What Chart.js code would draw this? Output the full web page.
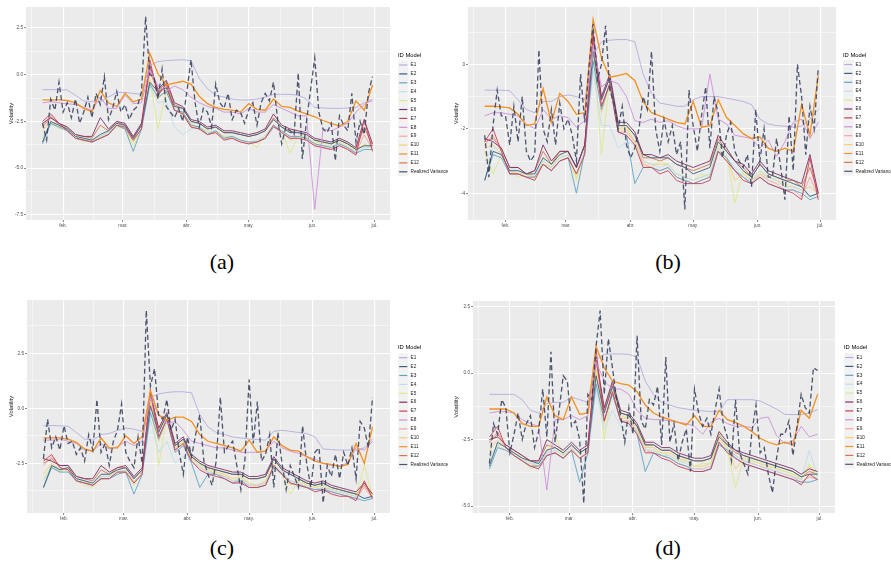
<!DOCTYPE html>
<html>
<head>
<meta charset="utf-8">
<script src="https://cdn.jsdelivr.net/npm/chart.js@4.4.0/dist/chart.umd.min.js"></script>
<style>
  body { margin: 0; background: #fff; }
  #fig { position: relative; width: 891px; height: 569px; overflow: hidden; }
  #fig canvas { position: absolute; }
  .lab { position: absolute; width: 60px; height: 24px; line-height: 24px; text-align: center;
         font-family: "Liberation Serif", "DejaVu Serif", serif; font-size: 22px; color: #000; }
</style>
</head>
<body>
<div id="fig">
  <canvas id="ca" width="456" height="240" style="left:0px;top:0px"></canvas>
  <canvas id="cb" width="446" height="240" style="left:445px;top:0px"></canvas>
  <canvas id="cc" width="456" height="240" style="left:0px;top:285px"></canvas>
  <canvas id="cd" width="446" height="240" style="left:445px;top:285px"></canvas>
  <div class="lab" style="left:192px;top:250px">(a)</div>
  <div class="lab" style="left:638px;top:250px">(b)</div>
  <div class="lab" style="left:192px;top:536px">(c)</div>
  <div class="lab" style="left:638px;top:536px">(d)</div>
</div>
<script>
// day of year (0 = 1 Jan) for the model series, every 4 days
const days = [21,25,29,33,37,41,45,49,53,57,61,65,69,73,77,81,85,89,93,97,
  101,105,109,113,117,121,125,129,133,137,141,145,149,153,157,161,165,169,173,177,181];
// realized variance is read every 2 days
const rvDays = [21,23,25,27,29,31,33,35,37,39,41,43,45,47,49,51,53,55,57,59,
  61,63,65,67,69,71,73,75,77,79,81,83,85,87,89,91,93,95,97,99,
  101,103,105,107,109,111,113,115,117,119,121,123,125,127,129,131,133,135,137,139,
  141,143,145,147,149,151,153,155,157,159,161,163,165,167,169,171,173,175,177,179,181];
const seriesNames = ['E1','E2','E3','E4','E5','E6','E7','E8','E9','E10','E11','E12','Realized Variance'];
const monthTicks = [31,60,91,121,152,182];
const monthLabels = ['feb.','mar.','abr.','may.','jun.','jul.'];

// ---- panel (a)
const aE1 = [-0.8,-0.8,-0.8,-0.82,-1.1,-1.4,-1.45,-1.45,-1.2,-0.95,
  -0.95,-1.0,-1.05,0.5,0.7,0.75,0.78,0.8,0.75,-0.2,
  -0.75,-1.1,-1.2,-1.3,-1.35,-1.35,-1.3,-1.2,-1.05,-1.05,
  -1.05,-1.1,-1.3,-1.75,-1.78,-1.8,-1.8,-1.78,-1.75,-1.5,-1.4];
const aE2 = [-3.6,-2.5,-2.7,-2.9,-3.3,-3.4,-3.5,-3.2,-3.0,-2.6,
  -2.7,-3.4,-2.7,-0.4,-0.9,-0.7,-1.7,-1.8,-2.5,-2.6,
  -2.9,-2.8,-3.1,-3.1,-3.2,-3.3,-3.2,-3.0,-2.4,-2.8,
  -3.1,-3.1,-3.2,-3.5,-3.6,-3.7,-3.5,-3.7,-4.0,-3.8,-3.8];
const aE3 = [-3.7,-2.6,-2.8,-3.0,-3.4,-3.5,-3.6,-3.4,-3.2,-2.7,
  -2.9,-4.1,-2.9,-0.5,-1.2,-0.9,-1.9,-2.0,-2.7,-2.8,
  -3.2,-3.0,-3.4,-3.3,-3.5,-3.6,-3.6,-3.4,-2.8,-3.0,
  -3.3,-3.3,-3.4,-3.7,-3.8,-3.9,-3.7,-3.9,-4.2,-4.0,-4.0];
const aE4 = [-3.3,-2.7,-2.6,-2.9,-3.2,-3.4,-3.5,-3.3,-3.1,-2.6,
  -2.8,-3.5,-2.9,-0.6,-1.5,-1.4,-2.8,-3.2,-2.9,-2.8,
  -3.1,-3.0,-3.4,-3.3,-3.5,-3.6,-3.5,-3.3,-2.7,-3.0,
  -3.3,-3.3,-3.4,-3.7,-3.8,-3.8,-3.7,-3.9,-4.1,-3.9,-3.9];
const aE5 = [-3.4,-2.6,-2.9,-2.8,-3.3,-3.6,-3.5,-3.3,-3.1,-2.8,
  -2.9,-3.8,-2.9,-0.2,-2.9,-0.9,-1.9,-2.1,-2.6,-2.8,
  -3.0,-3.1,-3.3,-3.3,-3.5,-3.6,-3.9,-3.2,-2.7,-3.0,
  -4.2,-3.3,-3.3,-3.6,-3.7,-3.7,-3.6,-3.8,-4.0,-3.8,-3.8];
const aE6 = [-2.6,-2.3,-2.6,-2.8,-3.2,-3.3,-3.3,-2.3,-2.9,-2.5,
  -2.6,-3.3,-2.6,0.5,-0.8,-0.3,-1.5,-1.7,-2.4,-2.5,
  -2.8,-2.7,-3.0,-3.0,-3.1,-3.2,-3.1,-2.9,-2.1,-2.7,
  -2.9,-3.0,-3.1,-3.4,-3.5,-3.6,-3.4,-3.6,-3.9,-2.4,-3.7];
const aE7 = [-2.5,-2.1,-2.6,-3.0,-3.4,-3.5,-3.6,-3.4,-3.2,-2.7,
  -2.8,-3.5,-2.9,0.8,-1.1,-0.5,-1.9,-2.1,-2.8,-2.9,
  -3.2,-3.1,-3.5,-3.4,-3.6,-3.7,-3.6,-3.4,-2.7,-3.1,
  -3.4,-3.4,-3.5,-3.8,-3.9,-4.0,-3.8,-4.0,-4.3,-2.4,-4.1];
const aE8 = [-1.5,-1.45,-1.5,-1.55,-1.6,-1.75,-1.9,-1.2,-1.8,-1.8,
  -1.1,-1.55,-1.5,0.3,-0.6,-0.9,-0.6,-0.8,-1.2,-1.5,
  -1.7,-1.8,-2.0,-2.0,-2.1,-1.8,-2.0,-2.0,-1.6,-1.8,
  -2.0,-2.2,-2.2,-7.2,-2.9,-3.0,-2.8,-2.6,-2.0,-1.6,-1.3];
const aE9 = [-2.7,-2.2,-2.7,-3.0,-3.4,-3.5,-3.6,-3.4,-3.2,-2.7,
  -2.9,-3.5,-2.9,0.4,-1.1,-0.6,-1.9,-2.1,-2.8,-2.9,
  -3.2,-3.1,-3.4,-3.4,-3.6,-3.7,-3.6,-3.4,-2.8,-3.1,
  -3.4,-3.4,-3.5,-3.8,-3.9,-4.0,-3.8,-4.0,-4.2,-3.2,-4.0];
const aE10 = [-3.0,-2.5,-2.8,-2.9,-3.3,-3.5,-3.5,-3.3,-3.1,-2.7,
  -2.9,-3.6,-2.9,-0.3,-1.3,-0.8,-1.9,-2.0,-2.7,-2.8,
  -3.1,-3.0,-3.3,-3.3,-3.5,-3.6,-3.6,-3.3,-2.8,-3.0,
  -3.5,-3.3,-3.4,-3.7,-3.8,-3.8,-3.7,-3.9,-4.1,-3.7,-3.9];
const aE11 = [-1.35,-1.35,-1.35,-1.38,-1.5,-1.8,-1.98,-0.85,-1.5,-1.7,
  -1.0,-1.45,-1.3,1.15,0.05,-0.55,-0.45,-0.35,-0.5,-1.15,
  -1.55,-1.75,-1.85,-1.9,-2.0,-1.55,-1.85,-1.9,-1.3,-1.7,
  -1.75,-1.95,-2.1,-2.25,-2.45,-2.6,-2.75,-2.5,-1.4,-1.9,-0.55];
const aE12 = [-2.8,-2.3,-2.6,-2.8,-3.2,-3.3,-3.4,-2.7,-3.0,-2.5,
  -2.7,-3.4,-2.7,0.2,-0.9,-0.4,-1.6,-1.8,-2.5,-2.6,
  -2.9,-2.8,-3.1,-3.1,-3.2,-3.3,-3.2,-3.0,-2.3,-2.8,
  -3.0,-3.1,-3.2,-3.5,-3.6,-3.7,-3.5,-3.7,-4.0,-2.8,-3.8];
const aRV = [-2.6,-3.5,-1.3,-1.9,-0.4,-2.0,-1.5,-2.3,-1.3,-2.6,
  -2.0,-1.2,-2.3,-1.0,-1.6,-0.1,-2.4,-1.8,-0.9,-2.0,
  -1.6,-2.4,-1.9,-1.7,-0.9,3.1,0.0,-0.1,-1.3,0.3,
  -1.7,-2.0,-2.3,-1.8,-2.5,-0.9,0.8,-1.5,-2.8,-1.8,
  -2.0,-2.8,-0.5,-1.5,-1.8,-1.0,-2.4,-1.9,-2.0,-2.6,
  -1.9,-1.5,-2.7,-1.5,-1.0,-1.4,-0.4,-2.4,-3.7,-2.8,
  -3.0,-3.2,0.1,-4.5,-2.5,-0.8,0.9,-2.0,-2.9,-3.1,
  -2.6,-4.6,-2.2,-2.7,-3.0,-1.0,-3.6,-2.5,-3.2,-1.0,-0.1];
const aYTicks = [2.5,0,-2.5,-5,-7.5];
const aYLabels = ['2.5','0.0','-2.5','-5.0','-7.5'];

// ---- panel (b)
const bE1 = [-0.8,-0.8,-0.8,-0.82,-1.1,-1.4,-1.5,-1.15,-1.15,-1.0,
  -0.95,-1.0,-1.1,0.3,0.7,0.75,0.77,0.77,0.7,-0.3,
  -0.9,-1.2,-1.25,-1.3,-1.3,-1.1,-1.0,-1.0,-1.0,-1.05,
  -1.1,-1.15,-1.25,-1.7,-1.85,-1.9,-1.92,-1.95,-1.92,-1.7,-1.4];
const bE2 = [-3.6,-2.7,-2.8,-3.3,-3.3,-3.4,-3.4,-2.9,-3.1,-2.8,
  -2.7,-3.2,-2.5,0.4,-1.1,-0.4,-1.9,-1.9,-2.2,-2.8,
  -2.9,-2.9,-2.9,-3.1,-3.2,-3.4,-3.3,-3.2,-2.4,-2.7,
  -3.0,-3.3,-3.5,-3.1,-3.4,-3.5,-3.6,-3.7,-3.8,-4.1,-4.0];
const bE3 = [-3.6,-2.8,-2.9,-3.4,-3.4,-3.5,-3.5,-3.1,-3.3,-3.0,
  -2.9,-4.0,-2.7,0.1,-1.4,-0.6,-2.1,-2.2,-3.7,-3.2,
  -3.2,-3.3,-3.2,-3.5,-3.6,-3.7,-3.6,-3.5,-2.7,-2.9,
  -3.3,-3.5,-3.7,-3.5,-3.7,-3.8,-3.9,-3.9,-4.0,-4.2,-4.1];
const bE4 = [-3.0,-2.6,-2.6,-3.2,-3.3,-3.4,-3.4,-3.0,-3.2,-2.9,
  -2.8,-3.4,-2.7,-0.2,-1.9,-1.9,-2.6,-2.4,-2.5,-3.0,
  -3.1,-3.2,-3.1,-3.4,-3.5,-3.6,-3.5,-3.4,-2.6,-2.9,
  -3.2,-3.5,-3.6,-3.3,-3.5,-3.6,-3.8,-3.8,-3.9,-4.1,-4.0];
const bE5 = [-2.7,-3.4,-2.8,-3.3,-3.5,-3.4,-3.6,-3.0,-3.2,-2.8,
  -2.9,-3.6,-2.7,0.5,-2.8,-0.5,-2.0,-1.9,-2.4,-3.0,
  -3.2,-3.0,-3.1,-3.4,-3.5,-3.6,-3.4,-3.5,-2.5,-2.8,
  -4.3,-3.3,-3.6,-3.4,-3.5,-3.6,-3.7,-3.8,-3.9,-4.1,-4.0];
const bE6 = [-2.3,-2.4,-2.6,-3.2,-3.2,-3.4,-3.3,-2.5,-3.0,-2.7,
  -2.7,-3.2,-2.5,0.9,-1.0,-0.3,-1.8,-1.8,-2.1,-2.8,
  -2.8,-2.9,-2.8,-3.0,-3.1,-3.2,-3.1,-3.0,-2.2,-2.6,
  -3.0,-3.1,-3.4,-3.0,-3.3,-3.4,-3.5,-3.6,-3.7,-2.8,-4.0];
const bE7 = [-2.4,-2.0,-2.7,-3.4,-3.4,-3.5,-3.6,-3.1,-3.3,-3.0,
  -2.9,-3.4,-2.8,1.0,-1.3,-0.6,-2.1,-2.2,-2.5,-3.2,
  -3.2,-3.4,-3.3,-3.6,-3.7,-3.7,-3.7,-3.6,-2.7,-3.0,
  -3.3,-3.6,-3.7,-3.5,-3.7,-3.8,-3.9,-4.0,-4.2,-2.9,-4.2];
const bE8 = [-1.6,-1.5,-1.5,-1.55,-1.6,-1.85,-2.0,-1.4,-1.7,-1.6,
  -1.65,-1.95,-1.75,0.6,-0.7,-0.5,-0.6,-1.0,-1.75,-1.8,
  -1.7,-1.8,-1.75,-1.9,-2.0,-2.0,-2.0,-0.3,-1.7,-1.85,
  -2.2,-2.25,-2.3,-2.6,-2.35,-2.85,-2.4,-1.8,-1.7,-2.3,-1.8];
const bE9 = [-2.5,-2.2,-2.7,-3.4,-3.4,-3.5,-3.5,-3.1,-3.3,-3.0,
  -2.9,-3.4,-2.7,0.6,-1.3,-0.6,-2.1,-2.1,-2.4,-3.1,
  -3.2,-3.3,-3.2,-3.5,-3.6,-3.7,-3.6,-3.5,-2.7,-3.0,
  -3.3,-3.5,-3.7,-3.4,-3.6,-3.7,-3.9,-3.9,-4.1,-3.5,-4.1];
const bE10 = [-2.6,-2.5,-2.8,-3.3,-3.4,-3.4,-3.5,-3.1,-3.2,-2.9,
  -2.8,-3.5,-2.7,0.3,-1.5,-0.6,-2.0,-2.0,-2.4,-3.0,
  -3.1,-3.1,-3.1,-3.4,-3.5,-3.6,-3.5,-3.4,-2.6,-2.9,
  -3.6,-3.4,-3.6,-3.3,-3.5,-3.6,-3.8,-3.8,-3.9,-3.8,-4.0];
const bE11 = [-1.3,-1.3,-1.32,-1.35,-1.55,-1.9,-1.85,-0.75,-1.8,-0.9,
  -1.15,-1.55,-1.5,1.4,0.2,-0.4,-0.35,-0.28,-0.5,-1.15,
  -1.5,-1.6,-1.7,-1.8,-1.85,-1.15,-1.95,-1.9,-1.1,-1.65,
  -1.9,-2.15,-2.3,-2.25,-2.6,-2.7,-2.6,-2.7,-1.25,-2.2,-0.35];
const bE12 = [-2.4,-2.3,-2.6,-3.2,-3.2,-3.4,-3.3,-2.7,-3.1,-2.7,
  -2.7,-3.2,-2.5,0.7,-1.1,-0.4,-1.9,-1.9,-2.2,-2.9,
  -2.9,-3.0,-2.9,-3.1,-3.2,-3.3,-3.2,-3.1,-2.3,-2.7,
  -3.0,-3.2,-3.5,-3.1,-3.4,-3.5,-3.6,-3.6,-3.8,-3.2,-4.0];
const bRV = [-2.2,-3.5,-1.9,-0.8,-1.6,-1.6,-2.5,-1.3,-2.4,-1.0,
  -2.7,-3.0,-2.8,0.45,-2.0,-2.4,-1.4,-2.5,-1.2,-2.0,
  -1.7,-2.2,-3.0,-0.3,-1.8,-0.1,1.25,-0.5,0.0,1.2,
  -0.8,-1.2,-2.0,-1.3,-2.5,-2.9,-2.6,-2.0,-1.0,-1.4,
  0.4,-2.0,-2.7,-1.7,-2.4,-1.9,-2.8,-2.4,-4.5,-0.8,
  -1.9,-2.7,-1.6,-0.7,-2.6,-1.0,-1.5,-2.9,-2.2,-1.8,
  -2.7,-3.0,-3.2,-2.8,-3.8,-1.4,-3.0,-2.0,-3.5,-3.5,
  -2.3,-3.2,-4.2,-1.6,-3.3,0.0,-1.0,-2.8,-1.3,-2.0,-0.1];
const bYTicks = [0,-2,-4];
const bYLabels = ['0','-2','-4'];

// ---- panel (c)
const cE1 = [-0.8,-0.78,-0.8,-0.82,-1.1,-1.4,-1.45,-1.2,-1.15,-1.0,
  -0.9,-0.95,-1.05,0.5,0.65,0.72,0.75,0.75,0.7,-0.3,
  -0.85,-1.1,-1.2,-1.3,-1.35,-1.4,-1.42,-1.45,-1.05,-1.0,
  -1.05,-1.1,-1.15,-1.3,-1.85,-1.88,-1.9,-1.9,-1.9,-1.8,-1.4];
const cE2 = [-3.6,-2.6,-2.8,-2.7,-3.2,-3.3,-3.4,-3.0,-3.0,-2.8,
  -2.7,-3.2,-2.8,0.1,-1.1,-0.3,-1.7,-1.4,-2.2,-2.5,
  -2.7,-2.8,-2.9,-3.0,-3.0,-3.2,-3.2,-3.1,-2.3,-2.8,
  -3.0,-3.2,-3.4,-3.5,-3.4,-3.6,-3.7,-3.8,-3.9,-4.1,-4.0];
const cE3 = [-3.6,-2.7,-2.9,-2.9,-3.3,-3.4,-3.5,-3.2,-3.2,-3.0,
  -2.9,-3.9,-3.0,-0.2,-1.4,-0.5,-2.0,-1.7,-2.5,-3.6,
  -3.0,-3.0,-3.2,-3.4,-3.3,-3.6,-3.6,-3.5,-2.7,-3.0,
  -3.4,-3.5,-3.6,-3.7,-3.7,-3.8,-3.9,-4.0,-4.1,-4.2,-4.1];
const cE4 = [-3.2,-2.7,-2.6,-2.7,-3.1,-3.3,-3.4,-3.1,-3.1,-2.9,
  -2.8,-3.3,-3.0,-0.5,-2.0,-1.5,-2.5,-2.2,-2.4,-2.7,
  -2.9,-3.0,-3.1,-3.3,-3.2,-3.5,-3.5,-3.4,-2.6,-2.9,
  -3.3,-3.4,-3.6,-3.7,-3.6,-3.7,-3.8,-3.9,-4.0,-4.1,-4.0];
const cE5 = [-3.3,-2.6,-2.9,-2.7,-3.3,-3.5,-3.6,-3.1,-3.1,-2.8,
  -2.9,-3.5,-2.9,0.6,-2.6,-0.4,-1.8,-1.6,-2.3,-2.6,
  -2.8,-3.0,-3.0,-3.3,-3.2,-3.4,-3.6,-3.3,-2.5,-3.0,
  -3.9,-3.3,-3.5,-3.6,-3.5,-3.7,-3.8,-3.9,-4.0,-2.6,-4.0];
const cE6 = [-2.3,-2.4,-2.6,-2.6,-3.1,-3.2,-3.2,-2.6,-2.9,-2.7,
  -2.6,-3.1,-2.7,0.7,-0.9,-0.2,-1.6,-1.3,-2.1,-2.4,
  -2.6,-2.7,-2.8,-2.9,-2.9,-3.1,-3.1,-3.0,-2.2,-2.7,
  -2.9,-3.1,-3.3,-3.4,-3.3,-3.5,-3.6,-3.7,-3.8,-3.4,-3.9];
const cE7 = [-2.4,-2.1,-2.7,-2.8,-3.3,-3.4,-3.5,-3.2,-3.2,-2.9,
  -2.9,-3.4,-3.0,0.8,-1.3,-0.5,-1.9,-1.6,-2.4,-2.8,
  -3.0,-3.1,-3.2,-3.4,-3.4,-3.6,-3.6,-3.5,-2.6,-3.0,
  -3.4,-3.5,-3.6,-3.8,-3.7,-3.9,-4.0,-4.0,-4.2,-3.3,-4.1];
const cE8 = [-1.45,-1.45,-1.4,-1.5,-1.6,-1.9,-1.95,-1.6,-1.85,-1.75,
  -1.5,-1.7,-1.5,0.5,-0.3,-0.7,-0.6,-1.0,-1.5,-1.6,
  -1.7,-1.8,-1.8,-1.9,-2.0,-2.0,-2.0,-1.95,-1.5,-1.8,
  -1.95,-2.05,-2.2,-2.3,-2.5,-2.6,-2.6,-2.5,-1.8,-1.9,-1.5];
const cE9 = [-2.6,-2.2,-2.7,-2.8,-3.3,-3.4,-3.5,-3.2,-3.2,-2.9,
  -2.9,-3.4,-2.9,0.4,-1.3,-0.5,-1.9,-1.6,-2.4,-2.7,
  -2.9,-3.0,-3.1,-3.3,-3.3,-3.5,-3.5,-3.4,-2.6,-3.0,
  -3.3,-3.4,-3.6,-3.7,-3.6,-3.8,-3.9,-4.0,-4.1,-3.6,-4.1];
const cE10 = [-3.0,-2.5,-2.8,-2.8,-3.2,-3.3,-3.5,-3.1,-3.1,-2.9,
  -2.8,-3.4,-2.9,0.2,-1.5,-0.5,-1.8,-1.5,-2.3,-2.6,
  -2.8,-2.9,-3.0,-3.2,-3.1,-3.4,-3.5,-3.3,-2.6,-2.9,
  -3.5,-3.3,-3.5,-3.6,-3.5,-3.7,-3.8,-3.9,-4.0,-3.3,-4.0];
const cE11 = [-1.35,-1.35,-1.35,-1.4,-1.55,-1.85,-1.95,-1.35,-1.8,-1.8,
  -1.25,-1.6,-1.3,0.8,-0.3,-0.55,-0.4,-0.4,-0.6,-1.2,
  -1.5,-1.6,-1.7,-1.8,-1.95,-1.45,-2.0,-1.95,-1.3,-1.7,
  -1.9,-1.95,-2.2,-2.4,-2.5,-2.55,-2.65,-2.55,-1.6,-2.5,-0.85];
const cE12 = [-2.5,-2.3,-2.6,-2.6,-3.1,-3.2,-3.3,-2.8,-3.0,-2.7,
  -2.7,-3.2,-2.8,0.5,-1.0,-0.3,-1.7,-1.4,-2.2,-2.5,
  -2.7,-2.8,-2.9,-3.0,-3.0,-3.2,-3.2,-3.1,-2.3,-2.8,
  -3.0,-3.2,-3.4,-3.5,-3.4,-3.6,-3.7,-3.8,-3.9,-3.5,-4.0];
const cRV = [-2.3,-0.5,-1.8,-1.3,-1.9,-0.8,-1.6,-1.5,-2.1,-1.8,
  -2.4,-1.2,-1.9,0.4,-2.0,-1.6,-2.6,-1.5,-1.0,0.2,
  -2.0,-2.4,-2.7,-1.3,-2.5,4.45,1.0,1.8,-0.3,-0.5,
  0.4,-1.0,-0.5,-2.0,-3.0,-1.3,-2.2,-1.2,-0.3,-2.4,
  -3.0,-3.5,-2.4,0.5,-2.0,-1.7,-1.5,-2.6,-3.7,-2.3,
  1.3,-1.6,0.3,-2.4,-2.1,-1.2,-3.6,-1.1,-2.5,-3.7,
  -2.6,-3.1,-3.6,-0.8,-2.5,-3.6,-2.0,-1.8,-4.3,-2.6,
  -3.1,-2.1,-3.2,-2.0,-2.6,-1.8,-3.2,-0.6,-0.9,-1.8,0.5];
const cYTicks = [2.5,0,-2.5];
const cYLabels = ['2.5','0.0','-2.5'];

// ---- panel (d)
const dE1 = [-0.8,-0.8,-0.8,-0.8,-1.0,-1.4,-1.5,-1.15,-1.1,-1.1,
  -0.9,-1.0,-1.1,0.5,0.7,0.72,0.72,0.7,0.6,-0.3,
  -0.8,-1.1,-1.2,-1.3,-1.35,-1.4,-1.42,-1.45,-1.45,-1.0,
  -1.0,-1.0,-1.0,-1.05,-1.2,-1.35,-1.55,-1.56,-1.56,-1.5,-1.37];
const dE2 = [-3.5,-2.6,-2.8,-3.0,-3.2,-3.3,-3.4,-2.9,-2.8,-3.0,
  -2.7,-3.0,-2.8,-0.1,-1.5,-0.5,-1.5,-1.6,-2.0,-2.7,
  -2.7,-2.9,-2.9,-3.1,-3.2,-3.3,-3.3,-3.2,-2.4,-2.7,
  -2.9,-3.1,-3.2,-3.3,-3.4,-3.5,-3.6,-3.7,-3.9,-3.8,-3.8];
const dE3 = [-3.6,-2.8,-2.9,-3.1,-3.3,-3.5,-3.5,-3.1,-3.0,-3.2,
  -2.9,-4.1,-3.0,-0.4,-1.8,-0.8,-1.8,-1.9,-2.3,-3.7,
  -3.0,-3.1,-3.2,-3.4,-3.5,-3.7,-3.7,-3.6,-2.7,-2.9,
  -3.2,-3.4,-3.5,-3.6,-3.7,-3.8,-3.9,-4.0,-4.1,-4.1,-4.0];
const dE4 = [-3.2,-2.7,-2.7,-3.0,-3.2,-3.4,-3.4,-3.0,-2.9,-3.1,
  -2.8,-3.2,-3.0,-0.6,-2.1,-1.4,-2.0,-2.0,-2.2,-2.9,
  -2.9,-3.1,-3.1,-3.3,-3.4,-3.6,-3.6,-3.5,-2.6,-2.9,
  -3.1,-3.3,-3.4,-3.5,-3.6,-3.7,-3.8,-3.9,-4.0,-2.9,-3.9];
const dE5 = [-3.3,-2.7,-2.9,-3.0,-3.3,-3.6,-3.5,-3.0,-2.3,-3.1,
  -2.9,-3.2,-2.9,0.2,-2.5,-0.6,-1.6,-1.7,-2.1,-2.9,
  -2.9,-3.0,-3.1,-3.3,-3.3,-3.5,-3.4,-3.4,-2.2,-2.9,
  -4.3,-3.2,-3.3,-3.4,-3.5,-3.6,-3.7,-3.8,-4.0,-3.4,-3.9];
const dE6 = [-2.5,-2.4,-2.7,-2.9,-3.1,-3.3,-3.3,-2.5,-2.7,-2.9,
  -2.6,-2.9,-2.7,0.6,-1.3,-0.3,-1.4,-1.5,-1.9,-2.6,
  -2.6,-2.8,-2.8,-3.0,-3.1,-3.2,-3.2,-3.1,-2.2,-2.6,
  -2.9,-3.0,-3.1,-3.2,-3.3,-3.4,-3.5,-3.6,-3.8,-3.6,-3.7];
const dE7 = [-2.4,-2.0,-2.8,-3.1,-3.3,-3.5,-3.6,-3.1,-3.0,-3.2,
  -2.9,-3.2,-3.0,0.9,-1.8,-0.7,-1.8,-1.9,-2.3,-3.0,
  -3.0,-3.2,-3.3,-3.5,-3.6,-3.7,-3.7,-3.6,-2.6,-3.0,
  -3.2,-3.4,-3.5,-3.6,-3.7,-3.8,-3.9,-4.0,-4.2,-3.8,-4.0];
const dE8 = [-1.5,-1.45,-1.45,-1.5,-1.75,-1.9,-2.0,-4.4,-1.75,-1.75,
  -1.6,-1.75,-1.6,0.4,-0.3,-0.6,-0.6,-0.8,-1.4,-1.7,
  -1.75,-1.75,-1.8,-1.85,-1.9,-2.0,-2.3,-1.85,-1.7,-1.9,
  -2.0,-2.0,-2.05,-1.7,-1.65,-2.35,-2.65,-2.55,-2.0,-2.4,-2.3];
const dE9 = [-2.6,-2.2,-2.8,-3.1,-3.3,-3.5,-3.5,-3.1,-3.0,-3.2,
  -2.9,-3.2,-3.0,0.5,-1.8,-0.7,-1.8,-1.8,-2.2,-2.9,
  -3.0,-3.1,-3.2,-3.4,-3.5,-3.6,-3.6,-3.5,-2.6,-2.9,
  -3.1,-3.3,-3.4,-3.5,-3.6,-3.7,-3.8,-3.9,-4.1,-3.9,-4.0];
const dE10 = [-2.9,-2.5,-2.8,-3.0,-3.2,-3.4,-3.5,-3.0,-2.9,-3.1,
  -2.8,-3.2,-2.9,0.1,-1.9,-0.7,-1.7,-1.7,-2.1,-2.8,
  -2.8,-3.0,-3.0,-3.2,-3.3,-3.5,-3.5,-3.4,-2.5,-2.8,
  -3.6,-3.2,-3.3,-3.4,-3.5,-3.6,-3.7,-3.8,-4.0,-3.5,-3.9];
const dE11 = [-1.35,-1.35,-1.35,-1.5,-1.9,-2.0,-2.0,-0.9,-1.6,-1.75,
  -0.9,-1.55,-1.5,1.0,0.2,-0.3,-0.4,-0.45,-0.7,-1.2,
  -1.5,-1.65,-1.75,-1.85,-1.95,-1.6,-2.0,-2.0,-1.4,-1.75,
  -1.85,-2.0,-2.2,-2.45,-2.6,-2.7,-2.6,-2.7,-1.4,-1.7,-0.8];
const dE12 = [-2.6,-2.3,-2.7,-2.9,-3.1,-3.3,-3.3,-2.7,-2.8,-3.0,
  -2.7,-3.0,-2.8,0.4,-1.4,-0.4,-1.5,-1.6,-2.0,-2.7,
  -2.7,-2.9,-2.9,-3.1,-3.2,-3.3,-3.3,-3.2,-2.3,-2.7,
  -3.0,-3.1,-3.2,-3.3,-3.4,-3.5,-3.6,-3.7,-3.9,-3.7,-3.8];
const dRV = [-3.4,-1.9,-2.3,-1.0,-1.3,-3.0,-2.3,-1.5,-2.5,-1.9,
  -1.6,-2.8,-2.2,-0.6,-2.4,0.8,-2.6,-1.4,-0.1,-0.3,
  -2.0,-1.8,-2.5,-4.9,-0.8,-1.0,1.0,2.35,-0.8,1.3,
  0.2,-1.0,-1.6,-2.6,-1.3,-2.3,1.4,-1.8,-2.1,-1.0,
  -1.2,-0.5,-2.7,0.6,-2.6,-1.9,-3.3,-2.6,-2.1,-3.7,
  -0.6,-1.5,-2.0,-1.7,-2.3,-1.4,-0.6,-1.9,-2.4,-3.3,
  -1.0,-3.0,-3.4,-3.8,-2.2,-1.2,-3.0,-2.8,-3.8,-4.5,
  -3.2,-2.3,-2.3,-1.8,-3.1,-2.0,-0.8,-1.3,-1.5,0.2,0.1];
const dYTicks = [2.5,0,-2.5,-5];
const dYLabels = ['2.5','0.0','-2.5','-5.0'];

// styles
const lineColors = ['#b2ace0','#35607e','#5fa2c6','#bddcec','#dde98b','#7e2f63','#c8405a',
  '#cd90da','#f5a39b','#f6cf70','#f3901f','#d6764d','rgba(52,62,92,0.88)'];
const drawOrder = [3,6,7,8,9,5,4,2,10,11,1,12,0];
const fontFam = '"Liberation Sans", Arial, sans-serif';

const panels = [
  { id: 'ca', series: [aE1,aE2,aE3,aE4,aE5,aE6,aE7,aE8,aE9,aE10,aE11,aE12,aRV],
    yMin: -7.77, yMax: 3.62, yTicks: aYTicks, yLabels: aYLabels,
    yW: 26, top: 7, right: 66, xH: 20, legX: 398, legTitleY: 55, legFirstY: 65 },
  { id: 'cb', series: [bE1,bE2,bE3,bE4,bE5,bE6,bE7,bE8,bE9,bE10,bE11,bE12,bRV],
    yMin: -4.83, yMax: 1.78, yTicks: bYTicks, yLabels: bYLabels,
    yW: 23, top: 7, right: 55, xH: 20, legX: 398, legTitleY: 55, legFirstY: 64.5 },
  { id: 'cc', series: [cE1,cE2,cE3,cE4,cE5,cE6,cE7,cE8,cE9,cE10,cE11,cE12,cRV],
    yMin: -4.76, yMax: 4.92, yTicks: cYTicks, yLabels: cYLabels,
    yW: 27, top: 15, right: 66, xH: 12, legX: 398, legTitleY: 62, legFirstY: 72.7 },
  { id: 'cd', series: [dE1,dE2,dE3,dE4,dE5,dE6,dE7,dE8,dE9,dE10,dE11,dE12,dRV],
    yMin: -5.26, yMax: 2.71, yTicks: dYTicks, yLabels: dYLabels,
    yW: 28, top: 16, right: 56, xH: 12, legX: 399, legTitleY: 62, legFirstY: 72.5 }
];

const panelBg = {
  id: 'panelBg',
  beforeDraw(chart) {
    const a = chart.chartArea;
    const c = chart.ctx;
    c.save();
    c.fillStyle = '#ebebeb';
    c.fillRect(a.left, a.top, a.right - a.left, a.bottom - a.top);
    c.restore();
  }
};

// ggplot-like legend on the right
const ggLegend = {
  id: 'ggLegend',
  afterDraw(chart, args, opts) {
    const c = chart.ctx;
    const sets = chart.data.datasets;
    const gap = 8.9;
    c.save();
    c.textBaseline = 'middle';
    c.textAlign = 'left';
    c.fillStyle = '#000';
    c.font = '5.8px ' + fontFam;
    c.fillText('ID Model', opts.x, opts.titleY);
    c.fillStyle = '#f2f2f2';
    c.fillRect(opts.x, opts.firstY - gap / 2, 10.5, gap * sets.length);
    sets.forEach((ds, i) => {
      const yc = opts.firstY + i * gap;
      c.strokeStyle = ds.borderColor;
      c.lineWidth = 1.2;
      c.beginPath();
      c.moveTo(opts.x + 1.2, yc);
      c.lineTo(opts.x + 9.3, yc);
      c.stroke();
      c.fillStyle = '#222';
      c.font = '4.7px ' + fontFam;
      c.fillText(ds.label, opts.x + 12.5, yc);
    });
    c.restore();
  }
};

function withMinor(major, lab, lo, hi) {
  const list = major.map((v, i) => ({ value: v, lab: lab[i], mj: true }));
  const step = Math.abs(major[1] - major[0]);
  const dir = Math.sign(major[0] - major[1]);
  const all = [major[0] + step * dir].concat(major, [major[major.length - 1] - step * dir]);
  for (let i = 0; i < all.length - 1; i++) {
    const m = (all[i] + all[i + 1]) / 2;
    if (m > lo && m < hi) list.push({ value: m, lab: '', mj: false });
  }
  return list.sort((p, q) => p.value - q.value);
}

function gridOpts() {
  return {
    color: '#ffffff',
    lineWidth: ctx => (ctx.tick && ctx.tick.mj ? 1.1 : 0.5),
    tickLength: 2,
    tickWidth: 0.6,
    tickColor: ctx => (ctx.tick && ctx.tick.mj ? '#333333' : 'rgba(0,0,0,0)')
  };
}

function buildChart(p) {
  const xMin = 13, xMax = 189.5;
  const xTickList = withMinor([0].concat(monthTicks), [''].concat(monthLabels), xMin, xMax)
    .filter(t => t.value >= xMin);
  const yTickList = withMinor(p.yTicks, p.yLabels, p.yMin, p.yMax);

  const datasets = p.series.map((vals, k) => {
    const xs = k == 12 ? rvDays : days;
    return {
      label: seriesNames[k],
      data: xs.map((d, i) => ({ x: d, y: vals[i] })),
      borderColor: lineColors[k],
      borderWidth: k == 10 ? 1.3 : (k == 12 ? 1.3 : 0.9),
      borderDash: k == 12 ? [5, 3] : [],
      pointRadius: 0,
      tension: 0,
      order: drawOrder[k]
    };
  });

  new Chart(document.getElementById(p.id), {
    type: 'line',
    data: { datasets: datasets },
    options: {
      responsive: false,
      animation: false,
      devicePixelRatio: 1,
      layout: { padding: { top: p.top, right: p.right, left: 0, bottom: 0 } },
      scales: {
        x: {
          type: 'linear', min: xMin, max: xMax,
          afterBuildTicks: axis => { axis.ticks = xTickList.map(t => Object.assign({}, t)); },
          afterFit: axis => { axis.height = p.xH; },
          border: { display: false },
          grid: gridOpts(),
          ticks: {
            autoSkip: false, maxRotation: 0, padding: 0.5, color: '#4d4d4d',
            font: { family: fontFam, size: 4.7 },
            callback: (v, i, t) => t[i].lab
          }
        },
        y: {
          type: 'linear', min: p.yMin, max: p.yMax,
          afterBuildTicks: axis => { axis.ticks = yTickList.map(t => Object.assign({}, t)); },
          afterFit: axis => { axis.width = p.yW; },
          border: { display: false },
          grid: gridOpts(),
          title: {
            display: true, text: 'Volatility', color: '#111',
            font: { family: fontFam, size: 5.8 },
            padding: { top: 8, bottom: 0 }
          },
          ticks: {
            autoSkip: false, padding: 1, color: '#4d4d4d',
            font: { family: fontFam, size: 4.7 },
            callback: (v, i, t) => t[i].lab
          }
        }
      },
      plugins: {
        legend: { display: false },
        tooltip: { enabled: false },
        ggLegend: { x: p.legX, titleY: p.legTitleY, firstY: p.legFirstY }
      }
    },
    plugins: [panelBg, ggLegend]
  });
}

panels.forEach(buildChart);
</script>
</body>
</html>
